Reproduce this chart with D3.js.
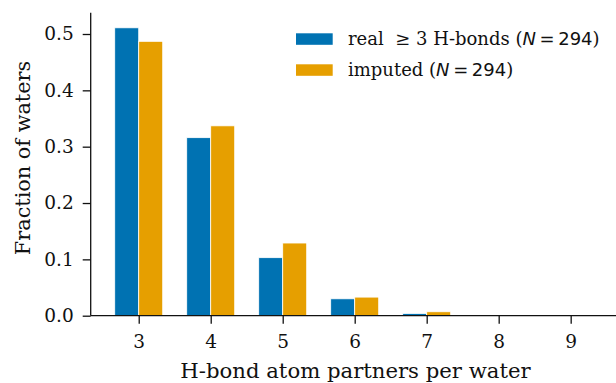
<!DOCTYPE html>
<html>
<head>
<meta charset="utf-8">
<script src="https://cdn.jsdelivr.net/npm/d3@7"></script>
<style>
  body { margin: 0; background: #fff; }
  text { font-family: "DejaVu Serif", serif; fill: #111; }
  .math { font-family: "DejaVu Sans", sans-serif; }
</style>
</head>
<body>
<svg></svg>
<script>
var svg_width = 616;
var svg_height = 383;

// bond partner counts and fractions
var partners = [3, 4, 5, 6, 7, 8, 9];
var real_values = [0.511, 0.316, 0.103, 0.030, 0.004, 0, 0];
var imputed_values = [0.487, 0.337, 0.129, 0.033, 0.007, 0, 0];
var y_ticks = [0.0, 0.1, 0.2, 0.3, 0.4, 0.5];
var series_names = ['real', 'imputed'];
var series_colors = ['#0072b2', '#e69f00'];

var bar_w = 1 / 3;

var svg = d3.select('svg')
  .attr('width', svg_width)
  .attr('height', svg_height);

var xScale = d3.scaleLinear().domain([2.333, 9.667]).range([90.7, 618.7]);
var yScale = d3.scaleLinear().domain([0, 0.5]).range([315.7, 34]);

var rows = [];
partners.forEach(function(p, i) {
  rows.push({'x': p, 'value': real_values[i], 'series': 0});
  rows.push({'x': p, 'value': imputed_values[i], 'series': 1});
});

svg.append('g')
  .selectAll('rect')
  .data(rows)
  .enter()
  .append('rect')
  .attr('x', function(d) {return(xScale(d['x'] - bar_w + d['series'] * bar_w));})
  .attr('width', function(d) {return(xScale(bar_w) - xScale(0));})
  .attr('y', function(d) {return(yScale(d['value']));})
  .attr('height', function(d) {return(yScale(0) - yScale(d['value']));})
  .attr('fill', function(d) {return(series_colors[d['series']]);})
  .attr('stroke', 'white')
  .attr('stroke-width', 0.8);

// axes
var xAxis = svg.append('g')
  .attr('transform', 'translate(0,' + yScale(0) + ')')
  .call(d3.axisBottom(xScale).tickValues(partners).tickSize(8).tickPadding(11).tickFormat(d3.format('d')));
var yAxis = svg.append('g')
  .attr('transform', 'translate(' + xScale.range()[0] + ',0)')
  .call(d3.axisLeft(yScale).tickValues(y_ticks).tickSize(8).tickPadding(9).tickFormat(d3.format('.1f')));
yAxis.select('.domain').attr('d', 'M0,' + yScale(0) + 'V12.7');
xAxis.select('.domain').attr('d', 'M' + xScale.range()[0] + ',0H' + svg_width);

[xAxis, yAxis].forEach(function(a) {
  a.selectAll('.domain').attr('stroke', '#111').attr('stroke-width', 1.3);
  a.selectAll('.tick line').attr('stroke', '#111').attr('stroke-width', 1.3);
  a.selectAll('.tick text').style('font-family', '"DejaVu Serif", serif').style('font-size', '18.5px').attr('fill', '#111');
});

svg.append('text')
  .attr('x', 355.5)
  .attr('y', 378.3)
  .attr('text-anchor', 'middle')
  .style('font-size', '21.2px')
  .text('H-bond atom partners per water');

svg.append('text')
  .attr('transform', 'translate(30,158) rotate(-90)')
  .attr('text-anchor', 'middle')
  .style('font-size', '20.8px')
  .text('Fraction of waters');

// legend
var legend = svg.append('g');
var legend_rows = [
  {'pre': 'real\u00a0 ', 'rel': '\u2265 3', 'post': ' H-bonds (', 'n': 294},
  {'pre': 'imputed (', 'rel': '', 'post': '', 'n': 294}
];
legend_rows.forEach(function(r, i) {
  var y = 33.3 + i * 31;
  legend.append('rect')
    .attr('x', 296).attr('y', y)
    .attr('width', 36.7).attr('height', 11.5)
    .attr('fill', series_colors[i]);
  var t = legend.append('text')
    .attr('x', 348).attr('y', y + 11.3)
    .style('font-size', '18px');
  t.append('tspan').text(r['pre']);
  if (r['rel']) {
    t.append('tspan').text(r['rel']);
    t.append('tspan').text(r['post']);
  }
  t.append('tspan').attr('class', 'math').style('font-style', 'italic').text('N');
  t.append('tspan').attr('class', 'math').text('\u2009=\u2009' + r['n']);
  t.append('tspan').text(')');
});
</script>
</body>
</html>
